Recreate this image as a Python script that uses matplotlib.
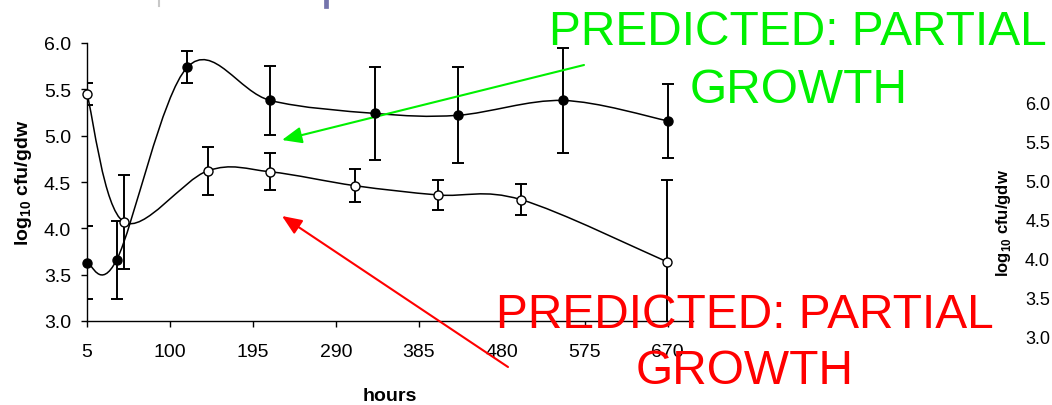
import numpy as np
import matplotlib
matplotlib.use("Agg")
from matplotlib import pyplot as plt
from matplotlib.path import Path
from matplotlib.patches import PathPatch
from matplotlib.lines import Line2D

plt.rcParams['font.family'] = ['Liberation Sans', 'DejaVu Sans']
plt.rcParams['mathtext.fontset'] = 'custom'
plt.rcParams['mathtext.rm'] = 'Liberation Sans'
plt.rcParams['mathtext.bf'] = 'Liberation Sans:bold'

# Data
hours_black = [5, 39, 120, 215, 335, 430, 550, 670]
log_black = [3.63, 3.66, 5.74, 5.38, 5.24, 5.22, 5.38, 5.16]
err_black = [0.39, 0.42, 0.17, 0.37, 0.50, 0.52, 0.57, 0.40]

hours_white = [5, 47, 143, 215, 312, 407, 502, 669]
log_white = [5.45, 4.07, 4.62, 4.61, 4.46, 4.36, 4.31, 3.64]
err_white = [0.12, 0.51, 0.26, 0.20, 0.18, 0.16, 0.17, 0.88]

x_ticks = [5, 100, 195, 290, 385, 480, 575, 670]
y_ticks = [3.0, 3.5, 4.0, 4.5, 5.0, 5.5, 6.0]

W, H = 1052, 406
fig = plt.figure(figsize=(W / 100, H / 100), dpi=100)

ax = fig.add_axes([87 / W, 1 - 322 / H, 606 / W, 278 / H])
ax.set_xlim(5, 699)
ax.set_ylim(3, 6)
ax.set_xticks(x_ticks)
ax.set_xticklabels([str(t) for t in x_ticks])
ax.set_yticks(y_ticks)
ax.set_yticklabels([f"{t:.1f}" for t in y_ticks])
ax.spines[['top', 'right']].set_visible(False)
for s in ['left', 'bottom']:
    ax.spines[s].set_linewidth(1.0)
ax.tick_params(axis='x', length=4.5, width=1.0, pad=11, labelsize=14)
ax.tick_params(axis='y', length=4.5, width=1.0, pad=7, labelsize=14)

ax.set_xlabel('hours', fontsize=14, fontweight='bold')
ax.xaxis.set_label_coords(390 / W, 1 - 388 / H, transform=fig.transFigure)
ax.set_ylabel(r'log$_{\mathbf{10}}$ cfu/gdw', fontsize=14, fontweight='bold')
ax.yaxis.set_label_coords(34 / W, 1 - 183 / H, transform=fig.transFigure)


def smooth_path(xs, ys):
    # Excel-like smoothed line: Catmull-Rom segments drawn as Bezier curves in screen space
    pts = ax.transData.transform(np.column_stack([xs, ys]))
    n = len(pts)
    verts = [pts[0]]
    codes = [Path.MOVETO]
    for i in range(n - 1):
        p0 = pts[i - 1] if i > 0 else pts[i]
        p1 = pts[i]
        p2 = pts[i + 1]
        p3 = pts[i + 2] if i + 2 < n else pts[i + 1]
        verts += [p1 + (p2 - p0) / 6, p2 - (p3 - p1) / 6, p2]
        codes += [Path.CURVE4] * 3
    verts = ax.transData.inverted().transform(np.array(verts))
    return Path(verts, codes)


for xs, ys in [(hours_black, log_black), (hours_white, log_white)]:
    ax.add_patch(PathPatch(smooth_path(xs, ys), fill=False, lw=1.1, edgecolor='black', zorder=2))

ax.errorbar(hours_black, log_black, yerr=err_black, fmt='none', ecolor='black',
            elinewidth=1.4, capsize=4.5, capthick=1.4, zorder=3)
ax.errorbar(hours_white, log_white, yerr=err_white, fmt='none', ecolor='black',
            elinewidth=1.4, capsize=4.5, capthick=1.4, zorder=3)
ax.plot(hours_black, log_black, 'o', ms=6.5, mfc='black', mec='black', clip_on=False, zorder=4)
ax.plot(hours_white, log_white, 'o', ms=6.5, mfc='white', mec='black', mew=1.0, clip_on=False, zorder=4)

# faint copy of the axis on the right edge of the slide
ax2 = fig.add_axes([1050 / W, 1 - 338 / H, 0.001, 235 / H])
ax2.set_ylim(3, 6)
ax2.set_yticks(y_ticks)
ax2.set_yticklabels([f"{t:.1f}" for t in y_ticks])
ax2.set_xticks([])
ax2.patch.set_visible(False)
for s in ax2.spines.values():
    s.set_visible(False)
ax2.tick_params(axis='y', length=0, pad=0, labelsize=13)
ax2.set_ylabel(r'log$_{\mathbf{10}}$ cfu/gdw', fontsize=12, fontweight='bold')
ax2.yaxis.set_label_coords(1013 / W, 1 - 223 / H, transform=fig.transFigure)

# slide decorations at the top
fig.add_artist(Line2D([159 / W] * 2, [1, 1 - 7 / H], transform=fig.transFigure, color='#c8c8c8', lw=1.5))
fig.add_artist(Line2D([326 / W] * 2, [1, 1 - 7 / H], transform=fig.transFigure, color='#7474ac', lw=3.4))

# annotations
green = '#00f000'
red = '#ff0000'
fig.text(798 / W, 1 - 45 / H, 'PREDICTED: PARTIAL', color=green, fontsize=34.5, ha='center', va='baseline')
fig.text(799 / W, 1 - 103 / H, 'GROWTH', color=green, fontsize=34.5, ha='center', va='baseline')
fig.text(745 / W, 1 - 328 / H, 'PREDICTED: PARTIAL', color=red, fontsize=34.5, ha='center', va='baseline')
fig.text(745 / W, 1 - 384 / H, 'GROWTH', color=red, fontsize=34.5, ha='center', va='baseline')

arrow_style = '-|>,head_length=1.2,head_width=0.5'
ax.annotate('', xy=(282 / W, 1 - 141 / H), xytext=(584 / W, 1 - 66 / H),
            xycoords='figure fraction', textcoords='figure fraction', annotation_clip=False,
            arrowprops=dict(arrowstyle=arrow_style, color=green, lw=1.5, mutation_scale=10,
                            shrinkA=0, shrinkB=0))
ax.annotate('', xy=(282 / W, 1 - 217 / H), xytext=(508 / W, 1 - 368 / H),
            xycoords='figure fraction', textcoords='figure fraction', annotation_clip=False,
            arrowprops=dict(arrowstyle=arrow_style, color=red, lw=1.5, mutation_scale=10,
                            shrinkA=0, shrinkB=0))

fig.savefig('out.png', dpi=100)
